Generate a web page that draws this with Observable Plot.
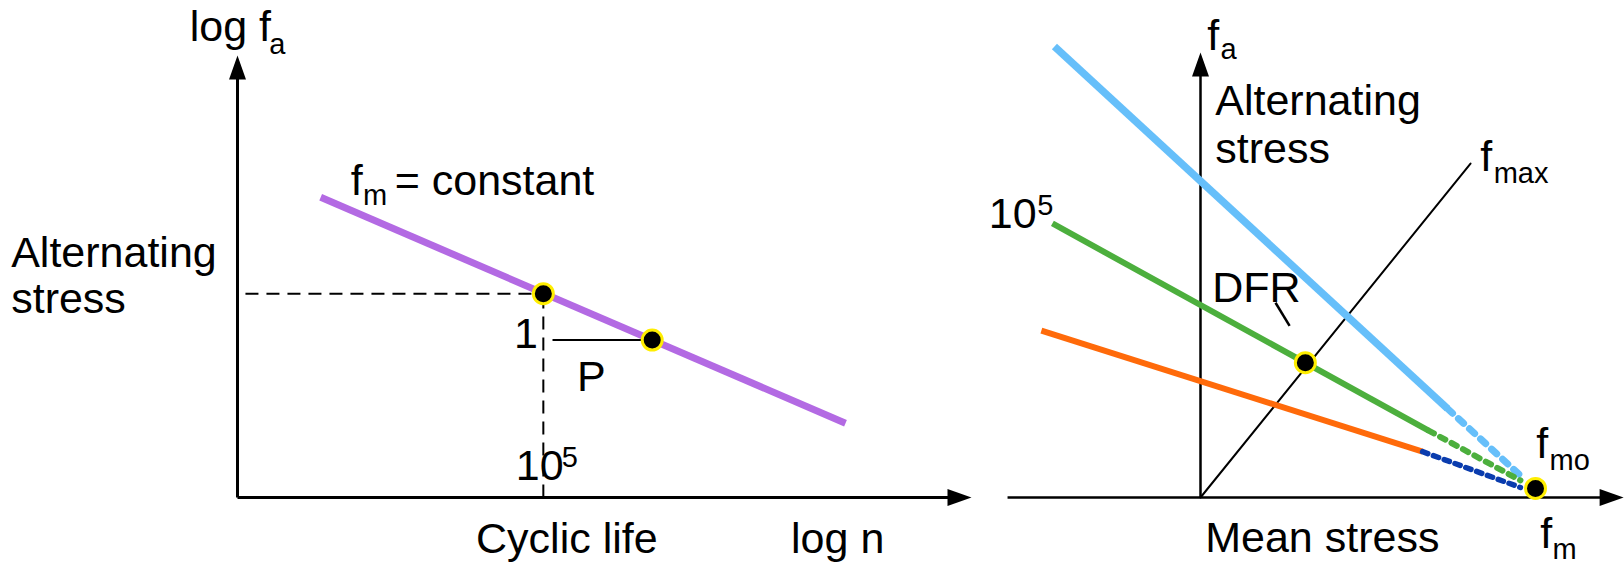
<!DOCTYPE html>
<html><head><meta charset="utf-8">
<script src="https://cdn.jsdelivr.net/npm/d3@7"></script>
<script src="https://cdn.jsdelivr.net/npm/@observablehq/plot@0.6"></script>
<style>
html,body{margin:0;padding:0;background:#fff;}
#wrap{display:flex;width:1624px;height:566px;overflow:hidden;background:#fff;}
#wrap svg{display:block;}
</style></head><body><div id="wrap"></div>
<script>
// ===== Left panel: log fa versus log n (S–N line at constant mean stress) =====
const leftAxes = [
  {x1: 0, y1: 0, x2: 11.8, y2: 0},
  {x1: 0, y1: 0, x2: 0, y2: 7.0}
];
const leftArrowUp = [{x: 0, y: 7.2}];
const leftArrowRight = [{x: 12.0, y: 0}];
const snCurve = [{logN: 1.36, logFa: 4.89}, {logN: 9.94, logFa: 1.21}];
const snPoints = [{logN: 5.0, logFa: 3.32}, {logN: 6.78, logFa: 2.565}];
const leftGuides = [
  {x1: 0.13, y1: 3.32, x2: 5.0, y2: 3.32},
  {x1: 5.0, y1: 0, x2: 5.0, y2: 3.32}
];
const slopeTick = [{x1: 5.15, y1: 2.565, x2: 6.72, y2: 2.565}];
const leftLabels = [
  {text: "log f", x: -0.78, y: 7.44},
  {text: "f", x: 1.85, y: 4.92},
  {text: "= constant", x: 2.57, y: 4.92},
  {text: "Alternating", x: -3.70, y: 3.75},
  {text: "stress", x: -3.70, y: 3.00},
  {text: "1", x: 4.52, y: 2.43},
  {text: "P", x: 5.55, y: 1.74},
  {text: "10", x: 4.55, y: 0.28},
  {text: "Cyclic life", x: 3.90, y: -0.91},
  {text: "log n", x: 9.05, y: -0.91}
];
const leftSmall = [
  {text: "a", x: 0.52, y: 7.23},
  {text: "m", x: 2.05, y: 4.76},
  {text: "5", x: 5.30, y: 0.49}
];

// ===== Right panel: fa versus fm (constant-life lines) =====
const rightAxes = [
  {x1: -5.76, y1: 0, x2: 12.4, y2: 0},
  {x1: 0, y1: 0, x2: 0, y2: 13.1}
];
const rightArrowUp = [{x: 0, y: 13.3}];
const rightArrowRight = [{x: 12.63, y: 0}];
const fmaxLine = [{fm: 0, fa: 0}, {fm: 8.06, fa: 9.98}];
const lifeLines = [
  {series: "blue", fm: -4.36, fa: 13.48}, {series: "blue", fm: 7.37, fa: 2.66},
  {series: "green", fm: -4.42, fa: 8.19}, {series: "green", fm: 6.81, fa: 2.00},
  {series: "orange", fm: -4.75, fa: 4.99}, {series: "orange", fm: 6.63, fa: 1.37}
];
const lifeDotted = [
  {series: "blue", fm: 7.37, fa: 2.66}, {series: "blue", fm: 9.61, fa: 0.60},
  {series: "green", fm: 6.81, fa: 2.00}, {series: "green", fm: 9.55, fa: 0.51},
  {series: "navy", fm: 6.63, fa: 1.37}, {series: "navy", fm: 9.55, fa: 0.30}
];
const dfrPoint = [{fm: 3.13, fa: 4.03}];
const fmoPoint = [{fm: 10.0, fa: 0.27}];
const dfrLeader = [{x1: 2.24, y1: 5.82, x2: 2.66, y2: 5.13}];
const rightLabels = [
  {text: "f", x: 0.20, y: 13.36},
  {text: "Alternating", x: 0.44, y: 11.42},
  {text: "stress", x: 0.44, y: 10.01},
  {text: "f", x: 8.35, y: 9.77},
  {text: "10", x: -6.32, y: 8.04},
  {text: "DFR", x: 0.35, y: 5.83},
  {text: "f", x: 10.02, y: 1.17},
  {text: "Mean stress", x: 0.14, y: -1.64},
  {text: "f", x: 10.14, y: -1.52}
];
const rightSmall = [
  {text: "a", x: 0.60, y: 13.12},
  {text: "max", x: 8.75, y: 9.41},
  {text: "5", x: -4.87, y: 8.43},
  {text: "mo", x: 10.42, y: 0.81},
  {text: "m", x: 10.51, y: -1.84}
];

const lineColors = {blue: "#66bffa", green: "#4caf3d", orange: "#ff6a0a", navy: "#0a3cae"};
const FONT = "Liberation Sans, Arial, Helvetica, sans-serif";
const BIG = 43, SMALL = 29;

const arrowUp = {draw(ctx) { ctx.moveTo(0, 0); ctx.lineTo(8.5, 24); ctx.lineTo(-8.5, 24); ctx.closePath(); }};
const arrowRight = {draw(ctx) { ctx.moveTo(0, 0); ctx.lineTo(-24, -8.5); ctx.lineTo(-24, 8.5); ctx.closePath(); }};

const textOpts = (size) => ({x: "x", y: "y", text: "text", textAnchor: "start", lineAnchor: "bottom",
  fontSize: size, fontFamily: FONT, fill: "black"});

const left = Plot.plot({
  width: 985, height: 566,
  marginLeft: 237, marginRight: 14, marginTop: 55, marginBottom: 69,
  x: {domain: [0, 12], axis: null},
  y: {domain: [0, 7.2], axis: null},
  style: {fontFamily: FONT, background: "white", overflow: "visible"},
  marks: [
    Plot.link(leftGuides, {x1: "x1", y1: "y1", x2: "x2", y2: "y2", stroke: "black", strokeWidth: 2, strokeDasharray: "13,8"}),
    Plot.link(leftAxes, {x1: "x1", y1: "y1", x2: "x2", y2: "y2", stroke: "black", strokeWidth: 3}),
    Plot.dot(leftArrowUp, {x: "x", y: "y", symbol: arrowUp, fill: "black", stroke: "none", r: 10}),
    Plot.dot(leftArrowRight, {x: "x", y: "y", symbol: arrowRight, fill: "black", stroke: "none", r: 10}),
    Plot.link(slopeTick, {x1: "x1", y1: "y1", x2: "x2", y2: "y2", stroke: "black", strokeWidth: 2}),
    Plot.line(snCurve, {x: "logN", y: "logFa", stroke: "#b36ae3", strokeWidth: 7, strokeLinecap: "butt"}),
    Plot.dot(snPoints, {x: "logN", y: "logFa", r: 10, fill: "black", stroke: "#ffee00", strokeWidth: 3}),
    Plot.text(leftLabels, textOpts(BIG)),
    Plot.text(leftSmall, textOpts(SMALL))
  ]
});

const right = Plot.plot({
  width: 639, height: 566,
  marginLeft: 215, marginRight: 89, marginTop: 52, marginBottom: 69,
  x: {domain: [0, 10], axis: null},
  y: {domain: [0, 13.3], axis: null},
  style: {fontFamily: FONT, background: "white", overflow: "visible"},
  marks: [
    Plot.link(rightAxes, {x1: "x1", y1: "y1", x2: "x2", y2: "y2", stroke: "black", strokeWidth: 2.5}),
    Plot.dot(rightArrowUp, {x: "x", y: "y", symbol: arrowUp, fill: "black", stroke: "none", r: 10}),
    Plot.dot(rightArrowRight, {x: "x", y: "y", symbol: arrowRight, fill: "black", stroke: "none", r: 10}),
    Plot.line(fmaxLine, {x: "fm", y: "fa", stroke: "black", strokeWidth: 2}),
    Plot.line(lifeLines, {x: "fm", y: "fa", z: "series", stroke: d => lineColors[d.series],
      strokeWidth: d => d.series === "blue" ? 7.5 : 6, strokeLinecap: "butt"}),
    Plot.line(lifeDotted.filter(d => d.series === "blue"), {x: "fm", y: "fa", stroke: lineColors.blue, strokeWidth: 7, strokeDasharray: "7,8"}),
    Plot.line(lifeDotted.filter(d => d.series === "green"), {x: "fm", y: "fa", stroke: lineColors.green, strokeWidth: 6, strokeDasharray: "6,7"}),
    Plot.line(lifeDotted.filter(d => d.series === "navy"), {x: "fm", y: "fa", stroke: lineColors.navy, strokeWidth: 5.5, strokeDasharray: "5.5,6"}),
    Plot.link(dfrLeader, {x1: "x1", y1: "y1", x2: "x2", y2: "y2", stroke: "black", strokeWidth: 2.5}),
    Plot.dot(dfrPoint, {x: "fm", y: "fa", r: 10, fill: "black", stroke: "#ffee00", strokeWidth: 3}),
    Plot.dot(fmoPoint, {x: "fm", y: "fa", r: 10, fill: "black", stroke: "#ffee00", strokeWidth: 3}),
    Plot.text(rightLabels, textOpts(BIG)),
    Plot.text(rightSmall, textOpts(SMALL))
  ]
});

const wrap = document.getElementById("wrap");
wrap.appendChild(left);
wrap.appendChild(right);
</script>
</body></html>
